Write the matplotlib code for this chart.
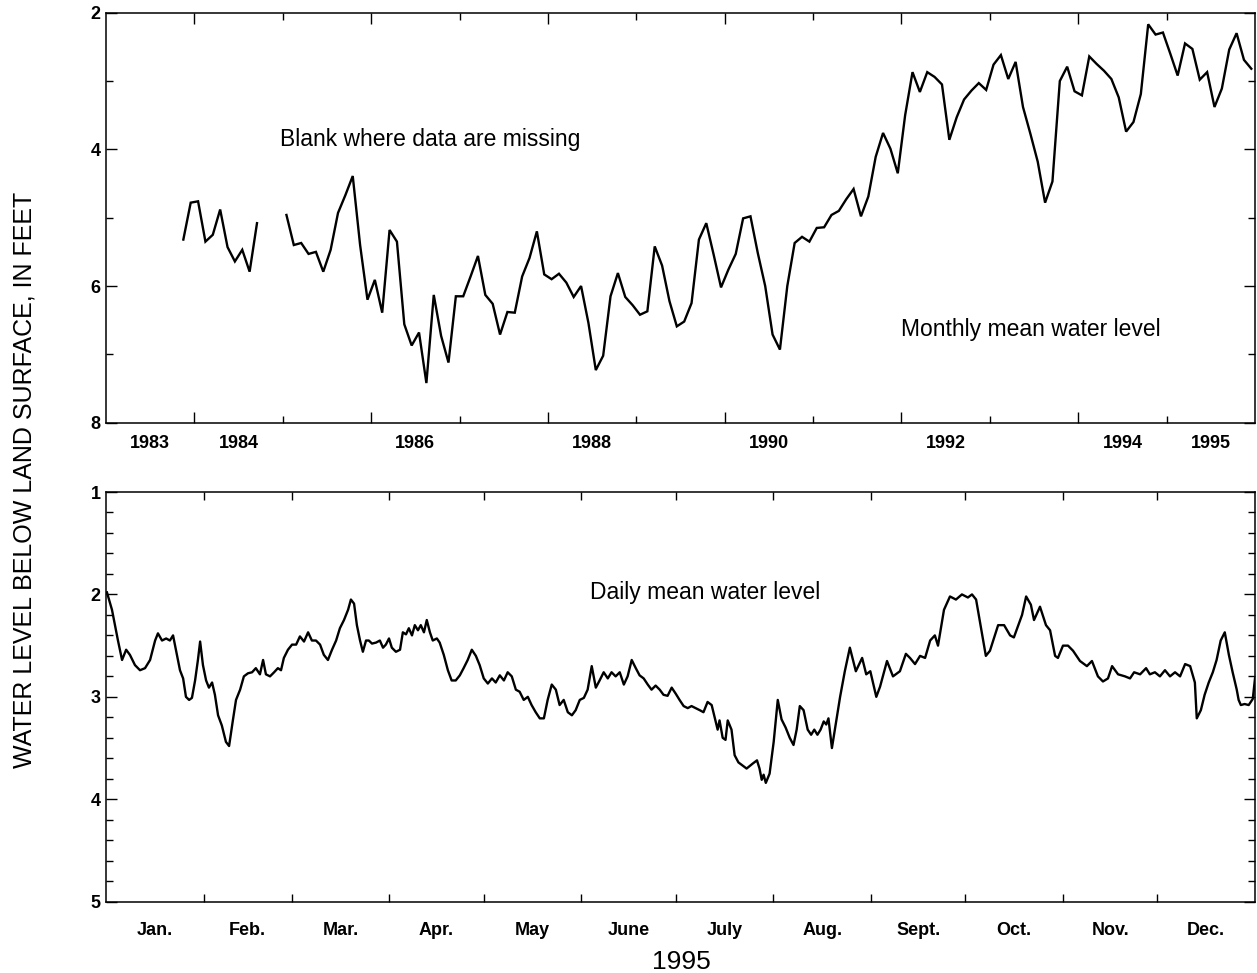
import numpy as np
import matplotlib
matplotlib.use("Agg")
import matplotlib.pyplot as plt
from matplotlib.ticker import FixedLocator, MultipleLocator, NullFormatter

plt.rcParams['font.family'] = ['Liberation Sans', 'DejaVu Sans']

# ---------------- data ----------------
# Monthly mean water level, starting November 1983 (NaN = missing)
monthly_start_year = 1983
monthly_start_month = 11
monthly_levels = [
    5.32, 4.78, 4.76, 5.35, 5.25, 4.88, 5.43, 5.64, 5.47, 5.79, 5.08,
    np.nan, np.nan, np.nan,
    4.96, 5.40, 5.37, 5.53, 5.50, 5.79, 5.47, 4.93, 4.67, 4.39, 5.40, 6.20,
    5.91, 6.39, 5.18, 5.35, 6.56, 6.87, 6.68, 7.42, 6.13, 6.73, 7.12, 6.15,
    6.15, 5.86, 5.56, 6.13, 6.26, 6.71, 6.38, 6.39, 5.86, 5.59, 5.20, 5.83,
    5.90, 5.82, 5.95, 6.16, 6.00, 6.54, 7.23, 7.02, 6.15, 5.81, 6.16, 6.28,
    6.42, 6.37, 5.42, 5.70, 6.22, 6.59, 6.52, 6.25, 5.32, 5.08, 5.54, 6.02,
    5.76, 5.53, 5.01, 4.98, 5.52, 6.00, 6.71, 6.93, 6.00, 5.37, 5.28, 5.35,
    5.15, 5.14, 4.96, 4.90, 4.73, 4.58, 4.98, 4.69, 4.11, 3.76, 3.99, 4.35,
    3.50, 2.87, 3.16, 2.87, 2.94, 3.05, 3.86, 3.53, 3.27, 3.14, 3.03, 3.13,
    2.76, 2.62, 2.97, 2.72, 3.38, 3.77, 4.18, 4.78, 4.47, 3.00, 2.79, 3.15,
    3.21, 2.64, 2.75, 2.85, 2.97, 3.24, 3.74, 3.60, 3.19, 2.17, 2.32, 2.29,
    2.60, 2.92, 2.45, 2.53, 2.98, 2.87, 3.38, 3.11, 2.54, 2.30, 2.69, 2.82,
]

# Daily mean water level, 1995 (day of year, feet below land surface)
daily_days = [
    0.3, 1.9, 3.8, 5.1, 6.4, 7.6, 9.2, 10.8, 12.4, 14.0, 15.6, 16.5, 17.8, 19.1,
    20.3, 21.3, 22.2, 23.5, 24.5, 25.4, 26.4, 27.3, 28.3, 29.2, 29.9, 30.8, 31.8,
    32.7, 33.7, 34.6, 35.6, 36.8, 38.1, 39.1, 40.3, 41.3, 42.6, 43.8, 45.1, 46.4,
    47.6, 48.9, 49.9, 50.8, 52.1, 53.4, 54.6, 55.6, 56.5, 57.8, 59.1, 60.4, 61.6,
    62.9, 64.2, 65.4, 66.7, 68.0, 69.2, 70.5, 71.8, 73.1, 74.3, 75.6, 76.9, 77.8,
    78.8, 79.7, 80.7, 81.6, 82.6, 83.5, 84.5, 85.8, 87.0, 88.0, 88.9, 89.9, 90.8,
    92.1, 93.4, 94.3, 95.3, 96.2, 97.2, 98.1, 99.1, 100.0, 101.0, 101.9, 102.9,
    103.8, 105.1, 106.0, 107.3, 108.6, 109.8, 111.1, 112.4, 113.6, 114.9, 116.2,
    117.5, 118.7, 120.0, 121.3, 122.6, 123.8, 125.1, 126.4, 127.6, 128.9, 130.2,
    131.4, 132.7, 134.0, 135.2, 136.5, 137.8, 139.1, 140.3, 141.6, 142.9, 144.1,
    145.4, 146.7, 148.0, 149.2, 150.5, 151.8, 153.0, 154.3, 155.6, 156.8, 158.1,
    159.4, 160.6, 161.9, 163.2, 164.5, 165.7, 167.0, 168.3, 169.5, 170.8, 172.1,
    173.3, 174.6, 175.9, 177.1, 178.4, 179.7, 181.0, 182.2, 183.5, 184.8, 186.0,
    187.3, 188.6, 189.8, 191.1, 192.4, 193.6, 194.3, 194.9, 195.9, 196.8, 197.5,
    198.7, 199.7, 200.9, 202.2, 203.5, 205.5, 206.8, 207.6, 208.3, 208.9, 209.6,
    210.8, 212.1, 213.4, 214.6, 215.9, 217.2, 218.4, 219.4, 220.4, 221.6, 222.9,
    224.0, 225.0, 226.0, 227.0, 228.0, 228.8, 229.5, 230.6, 233.2, 234.7, 236.3,
    238.2, 240.2, 241.5, 242.8, 244.7, 245.9, 248.1, 250.0, 252.2, 254.1, 255.4,
    257.0, 258.6, 260.2, 261.8, 263.3, 264.3, 266.2, 268.1, 270.0, 271.9, 273.8,
    275.1, 276.4, 279.5, 280.8, 283.4, 285.3, 287.2, 288.4, 291.0, 292.3, 293.8,
    294.8, 296.7, 298.6, 299.9, 301.5, 302.4, 304.0, 305.6, 307.2, 309.4, 311.6,
    313.2, 315.1, 316.7, 318.3, 319.6, 321.5, 323.7, 325.3, 326.6, 328.5, 330.4,
    331.6, 333.2, 334.8, 336.4, 338.0, 339.6, 341.2, 342.8, 344.4,
    345.9, 346.5, 347.8, 349.0, 350.3, 351.6, 352.8, 354.1, 355.4, 356.7, 357.9,
    359.2, 359.8, 360.5, 361.7, 363.0, 364.3, 365.0,
]
daily_levels = [
    1.98, 2.15, 2.45, 2.64, 2.54, 2.59, 2.69, 2.74, 2.72, 2.64, 2.45, 2.38, 2.45, 2.43,
    2.45, 2.40, 2.54, 2.74, 2.82, 3.00, 3.03, 3.01, 2.84, 2.64, 2.46, 2.69, 2.84,
    2.91, 2.86, 2.98, 3.18, 3.28, 3.44, 3.48, 3.23, 3.03, 2.93, 2.80, 2.77, 2.76,
    2.72, 2.78, 2.64, 2.78, 2.80, 2.76, 2.72, 2.74, 2.62, 2.54, 2.49, 2.49, 2.41,
    2.46, 2.37, 2.45, 2.45, 2.49, 2.59, 2.64, 2.54, 2.45, 2.33, 2.25, 2.15, 2.05,
    2.09, 2.30, 2.45, 2.56, 2.45, 2.45, 2.48, 2.47, 2.45, 2.52, 2.49, 2.43, 2.52,
    2.56, 2.54, 2.37, 2.39, 2.33, 2.40, 2.30, 2.35, 2.30, 2.37, 2.25, 2.37,
    2.45, 2.43, 2.47, 2.59, 2.74, 2.84, 2.84, 2.79, 2.72, 2.64, 2.54,
    2.60, 2.69, 2.82, 2.87, 2.82, 2.86, 2.79, 2.84, 2.76, 2.80, 2.93,
    2.95, 3.03, 3.00, 3.08, 3.15, 3.21, 3.21, 3.03, 2.88, 2.93, 3.08,
    3.03, 3.15, 3.18, 3.13, 3.03, 3.01, 2.93, 2.70, 2.91, 2.84, 2.76,
    2.82, 2.76, 2.80, 2.76, 2.88, 2.80, 2.64, 2.72, 2.79, 2.82, 2.88,
    2.93, 2.89, 2.93, 2.98, 2.99, 2.91, 2.97, 3.03, 3.09, 3.11, 3.09,
    3.11, 3.13, 3.15, 3.05, 3.08, 3.23, 3.32, 3.23, 3.40, 3.42, 3.23,
    3.32, 3.57, 3.64, 3.67, 3.70, 3.65, 3.62, 3.70, 3.81, 3.76, 3.84,
    3.75, 3.44, 3.03, 3.22, 3.30, 3.40, 3.47, 3.32, 3.09, 3.13, 3.32,
    3.37, 3.32, 3.37, 3.32, 3.24, 3.27, 3.21, 3.50, 3.00, 2.75, 2.52,
    2.75, 2.62, 2.78, 2.75, 3.00, 2.90, 2.65, 2.80, 2.75, 2.58, 2.62,
    2.68, 2.60, 2.62, 2.45, 2.40, 2.50, 2.15, 2.02, 2.05, 2.00, 2.03,
    2.00, 2.05, 2.60, 2.55, 2.30, 2.30, 2.40, 2.42, 2.20, 2.02, 2.10,
    2.25, 2.12, 2.30, 2.35, 2.60, 2.62, 2.50, 2.50, 2.55, 2.65, 2.70,
    2.65, 2.80, 2.85, 2.82, 2.70, 2.78, 2.80, 2.82, 2.76, 2.78, 2.72,
    2.78, 2.76, 2.80, 2.74, 2.80, 2.76, 2.80, 2.68, 2.70,
    2.86, 3.21, 3.13, 2.98, 2.86, 2.76, 2.64, 2.45, 2.37, 2.59, 2.76,
    2.93, 3.03, 3.08, 3.07, 3.08, 3.02, 2.82,
]

year_labels = [1983, 1984, 1986, 1988, 1990, 1992, 1994, 1995]
month_labels = ['Jan.', 'Feb.', 'Mar.', 'Apr.', 'May', 'June', 'July',
                'Aug.', 'Sept.', 'Oct.', 'Nov.', 'Dec.']
month_days = [31, 28, 31, 30, 31, 30, 31, 31, 30, 31, 30, 31]

# ---------------- figure ----------------
W, H = 1257, 973
fig = plt.figure(figsize=(W / 100, H / 100), dpi=100)

def ax_rect(x0, y0, x1, y1):
    return [x0 / W, 1 - y1 / H, (x1 - x0) / W, (y1 - y0) / H]

ax1 = fig.add_axes(ax_rect(106, 12.7, 1255, 422.7))
ax2 = fig.add_axes(ax_rect(106, 492, 1255, 901.7))

LW = 1.7
TXT = 13
NOTE = 16.5

for ax in (ax1, ax2):
    for s in ax.spines.values():
        s.set_linewidth(1.1)
    ax.tick_params(which='both', direction='in', top=True, right=True,
                   width=1.0, labelsize=TXT, pad=4)
    ax.tick_params(which='major', length=8)
    ax.tick_params(which='minor', length=5)

# --- top panel ---
t_month = [monthly_start_year + (monthly_start_month - 1 + 0.5 + i) / 12.0
           for i in range(len(monthly_levels))]
ax1.plot(t_month, monthly_levels, color='black', lw=LW, solid_joinstyle='miter')
ax1.set_xlim(1983, 1996)
ax1.set_ylim(8, 2)
ax1.yaxis.set_major_locator(FixedLocator([2, 4, 6, 8]))
ax1.yaxis.set_minor_locator(FixedLocator([3, 5, 7]))
ax1.xaxis.set_major_locator(FixedLocator(list(range(1984, 1996, 2))))
ax1.xaxis.set_minor_locator(FixedLocator(list(range(1985, 1996, 2))))
ax1.xaxis.set_major_formatter(NullFormatter())
for y in year_labels:
    ax1.text(y + 0.5, -0.03, str(y), transform=ax1.get_xaxis_transform(),
             ha='center', va='top', fontsize=TXT, fontweight='bold')

ax1.text(1984.97, 3.86, 'Blank where data are missing', fontsize=NOTE,
         ha='left', va='center')
ax1.text(1992.0, 6.63, 'Monthly mean water level', fontsize=NOTE,
         ha='left', va='center')

# --- bottom panel ---
ax2.plot(daily_days, daily_levels, color='black', lw=LW)
ax2.set_xlim(0, 365)
ax2.set_ylim(5, 1)
ax2.yaxis.set_major_locator(FixedLocator([1, 2, 3, 4, 5]))
ax2.yaxis.set_minor_locator(MultipleLocator(0.2))
bounds = np.cumsum(month_days)
ax2.xaxis.set_major_locator(FixedLocator(list(bounds[:-1])))
ax2.xaxis.set_minor_locator(FixedLocator([]))
ax2.xaxis.set_major_formatter(NullFormatter())
ax2.tick_params(axis='x', which='major', length=6)
starts = np.concatenate([[0], bounds[:-1]])
for s, n, lab in zip(starts, month_days, month_labels):
    ax2.text(s + n / 2.0, -0.049, lab, transform=ax2.get_xaxis_transform(),
             ha='center', va='top', fontsize=TXT, fontweight='bold')

ax2.text(153.7, 1.98, 'Daily mean water level', fontsize=NOTE,
         ha='left', va='center')

for ax in (ax1, ax2):
    for lab in ax.get_yticklabels():
        lab.set_fontweight('bold')

fig.text(681 / W, 1 - 962 / H, '1995', fontsize=19, ha='center', va='center')
fig.text(25 / W, 1 - 480 / H, 'WATER LEVEL BELOW LAND SURFACE, IN FEET',
         fontsize=18, rotation=90, ha='center', va='center')

fig.savefig('out.png', dpi=100)
